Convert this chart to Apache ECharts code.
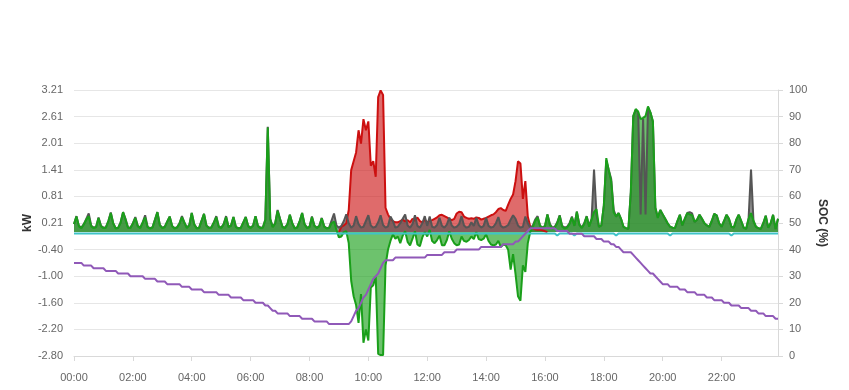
<!DOCTYPE html>
<html><head><meta charset="utf-8">
<script src="https://cdn.jsdelivr.net/npm/echarts@6/dist/echarts.min.js"></script>
<style>html,body{margin:0;padding:0;background:#fff}#c{width:849px;height:390px}</style>
</head><body><div id="c"></div>
<script>
// Categories: 5-minute slots 00:00 .. 23:55
const times = [];
for (let h = 0; h < 24; h++) for (let m = 0; m < 60; m += 5)
  times.push(String(h).padStart(2, '0') + ':' + String(m).padStart(2, '0'));

// Load (gray), kW
const load = [
0.18,0.36,0.14,0.10,0.18,0.30,0.42,0.15,0.10,0.12,0.33,0.14,
0.10,0.11,0.25,0.44,0.20,0.09,0.10,0.22,0.45,0.30,0.11,0.10,
0.20,0.34,0.14,0.10,0.22,0.38,0.12,0.09,0.11,0.28,0.45,0.16,
0.10,0.12,0.24,0.35,0.14,0.09,0.11,0.20,0.36,0.22,0.10,0.16,
0.43,0.18,0.09,0.10,0.26,0.41,0.15,0.10,0.11,0.22,0.36,0.13,
0.10,0.18,0.36,0.12,0.15,0.34,0.12,0.09,0.10,0.22,0.34,0.14,
0.10,0.15,0.36,0.14,0.10,0.11,0.28,2.38,0.30,0.12,0.20,0.50,
0.30,0.12,0.10,0.18,0.39,0.20,0.09,0.11,0.25,0.43,0.18,0.10,
0.12,0.35,0.15,0.10,0.14,0.32,0.13,0.09,0.10,0.26,0.42,0.15,
0.10,0.14,0.25,0.40,0.20,0.10,0.15,0.36,0.18,0.10,0.12,0.25,
0.38,0.15,0.10,0.12,0.22,0.38,0.16,0.10,0.13,0.35,0.25,0.10,
0.12,0.20,0.30,0.40,0.15,0.10,0.18,0.38,0.14,0.10,0.20,0.36,
0.14,0.35,0.12,0.10,0.16,0.32,0.14,0.10,0.17,0.33,0.15,0.10,
0.12,0.18,0.36,0.15,0.10,0.12,0.22,0.14,0.32,0.16,0.10,0.14,
0.32,0.14,0.10,0.12,0.20,0.34,0.14,0.10,0.12,0.16,0.28,0.38,
0.30,0.15,0.10,0.12,0.35,0.20,0.10,0.14,0.28,0.36,0.14,0.10,
0.14,0.40,0.18,0.10,0.12,0.22,0.38,0.14,0.10,0.12,0.20,0.35,
0.15,0.46,0.18,0.10,0.20,0.36,0.14,0.30,1.41,0.40,0.12,0.15,
0.60,1.62,1.40,1.20,0.50,0.35,0.43,0.30,0.12,0.09,0.07,0.90,
2.62,2.76,2.72,0.40,2.56,0.40,2.82,2.70,2.50,0.55,0.33,0.50,
0.40,0.30,0.20,0.12,0.10,0.09,0.25,0.39,0.15,0.30,0.43,0.45,
0.42,0.23,0.28,0.39,0.30,0.20,0.15,0.12,0.25,0.41,0.38,0.20,
0.12,0.25,0.39,0.30,0.12,0.10,0.28,0.39,0.25,0.10,0.07,0.30,
1.41,0.25,0.12,0.09,0.07,0.20,0.37,0.10,0.20,0.39,0.07,0.30
];

// Battery (green), kW
const battery = [
0.18,0.35,0.13,0.09,0.17,0.28,0.36,0.13,0.09,0.11,0.32,0.13,
0.09,0.10,0.24,0.43,0.19,0.08,0.09,0.21,0.45,0.28,0.10,0.09,
0.19,0.32,0.13,0.09,0.21,0.33,0.11,0.08,0.10,0.27,0.45,0.15,
0.09,0.11,0.23,0.35,0.13,0.08,0.10,0.19,0.34,0.21,0.09,0.15,
0.43,0.17,0.08,0.09,0.25,0.41,0.14,0.09,0.10,0.21,0.34,0.12,
0.09,0.17,0.34,0.11,0.14,0.34,0.11,0.08,0.09,0.21,0.34,0.13,
0.09,0.14,0.36,0.13,0.09,0.10,0.27,2.36,0.29,0.11,0.19,0.48,
0.29,0.11,0.09,0.17,0.39,0.19,0.08,0.10,0.24,0.43,0.17,0.09,
0.11,0.34,0.14,0.09,0.13,0.31,0.12,0.08,0.09,0.20,0.24,0.05,
-0.12,-0.10,0.00,0.02,-0.25,-1.10,-1.45,-1.65,-2.05,-1.40,-2.50,-2.20,
-2.45,-1.25,-1.20,-1.00,-2.75,-2.78,-2.78,-0.75,-0.40,-0.20,-0.05,-0.15,
-0.10,-0.25,-0.08,0.02,-0.22,-0.30,-0.15,0.02,-0.28,-0.32,-0.12,0.00,
-0.10,0.05,-0.20,-0.25,-0.18,-0.08,-0.30,-0.30,-0.18,0.02,-0.15,-0.25,
-0.30,-0.28,-0.10,-0.20,-0.22,-0.18,-0.10,-0.16,0.00,-0.16,-0.18,-0.15,
-0.05,-0.20,-0.28,-0.30,-0.28,-0.20,-0.34,-0.28,-0.30,-0.40,-0.85,-0.50,
-0.95,-1.45,-1.55,-0.75,-0.90,-0.25,0.00,0.10,0.25,0.33,0.14,0.09,
0.13,0.40,0.16,0.08,0.10,0.20,0.37,0.12,0.08,0.10,0.18,0.33,
0.14,0.46,0.16,0.09,0.18,0.35,0.12,0.28,0.45,0.52,0.12,0.15,
0.60,1.67,1.40,1.15,0.45,0.35,0.43,0.30,0.12,0.09,0.07,0.90,
2.62,2.78,2.72,2.55,2.58,2.62,2.84,2.70,2.50,0.55,0.32,0.50,
0.40,0.30,0.20,0.12,0.10,0.09,0.25,0.39,0.15,0.30,0.43,0.40,
0.38,0.23,0.28,0.39,0.30,0.20,0.15,0.12,0.25,0.41,0.38,0.20,
0.12,0.25,0.39,0.30,0.12,0.10,0.28,0.39,0.25,0.10,0.07,0.30,
0.43,0.25,0.12,0.09,0.07,0.20,0.37,0.10,0.20,0.39,0.07,0.30
];

// Solar (red), kW — null when not producing
const solar = [
null,null,null,null,null,null,null,null,null,null,null,null,
null,null,null,null,null,null,null,null,null,null,null,null,
null,null,null,null,null,null,null,null,null,null,null,null,
null,null,null,null,null,null,null,null,null,null,null,null,
null,null,null,null,null,null,null,null,null,null,null,null,
null,null,null,null,null,null,null,null,null,null,null,null,
null,null,null,null,null,null,null,null,null,null,null,null,
null,null,null,null,null,null,null,null,null,null,null,null,
null,null,null,null,null,null,null,null,null,null,null,null,
0.00,0.12,0.15,0.20,0.50,1.40,1.60,1.80,2.30,2.00,2.55,2.30,
2.50,1.50,1.60,1.25,3.05,3.20,3.10,0.55,0.40,0.30,0.25,0.22,
0.22,0.25,0.28,0.24,0.27,0.22,0.30,0.26,0.33,0.25,0.22,0.28,
0.22,0.26,0.27,0.30,0.33,0.38,0.39,0.36,0.33,0.30,0.27,0.30,
0.42,0.46,0.45,0.35,0.32,0.30,0.31,0.30,0.33,0.32,0.28,0.30,
0.32,0.35,0.38,0.40,0.45,0.52,0.54,0.50,0.48,0.62,0.75,0.85,
1.15,1.60,1.55,0.75,1.15,0.35,0.12,0.08,0.06,0.05,0.05,0.04,
0.02,0.00,null,null,null,null,null,null,null,null,null,null,
null,null,null,null,null,null,null,null,null,null,null,null,
null,null,null,null,null,null,null,null,null,null,null,null,
null,null,null,null,null,null,null,null,null,null,null,null,
null,null,null,null,null,null,null,null,null,null,null,null,
null,null,null,null,null,null,null,null,null,null,null,null,
null,null,null,null,null,null,null,null,null,null,null,null,
null,null,null,null,null,null,null,null,null,null,null,null
];

// Grid (cyan), kW
const grid = [
-0.03,-0.03,-0.03,-0.03,-0.03,-0.03,-0.03,-0.03,-0.03,-0.03,-0.03,-0.03,
-0.03,-0.03,-0.03,-0.03,-0.03,-0.03,-0.03,-0.03,-0.03,-0.03,-0.03,-0.03,
-0.03,-0.03,-0.03,-0.03,-0.03,-0.03,-0.03,-0.03,-0.03,-0.03,-0.03,-0.03,
-0.03,-0.03,-0.03,-0.03,-0.03,-0.03,-0.03,-0.03,-0.03,-0.03,-0.03,-0.03,
-0.03,-0.03,-0.03,-0.03,-0.03,-0.03,-0.03,-0.03,-0.03,-0.03,-0.03,-0.03,
-0.03,-0.03,-0.03,-0.03,-0.03,-0.03,-0.03,-0.03,-0.03,-0.03,-0.03,-0.03,
-0.03,-0.03,-0.03,-0.03,-0.03,-0.03,-0.03,-0.03,-0.03,-0.03,-0.03,-0.03,
-0.03,-0.03,-0.03,-0.03,-0.03,-0.03,-0.03,-0.03,-0.03,-0.03,-0.03,-0.03,
-0.03,-0.03,-0.03,-0.03,-0.03,-0.03,-0.03,-0.03,-0.03,-0.03,-0.03,-0.03,
-0.03,-0.03,-0.03,-0.03,-0.03,-0.03,-0.03,-0.03,-0.03,-0.03,-0.03,-0.03,
-0.03,-0.03,-0.03,-0.03,-0.03,-0.03,-0.03,-0.03,-0.03,-0.03,-0.03,-0.03,
-0.03,-0.03,-0.03,-0.03,-0.03,-0.03,-0.03,-0.03,-0.03,-0.03,-0.03,-0.03,
-0.03,-0.03,-0.03,-0.03,-0.03,-0.03,-0.03,-0.03,-0.03,-0.03,-0.03,-0.03,
-0.03,-0.03,-0.03,-0.03,-0.03,-0.03,-0.03,-0.03,-0.03,-0.03,-0.03,-0.03,
-0.03,-0.03,-0.03,-0.03,-0.03,-0.03,-0.03,-0.03,-0.03,-0.03,-0.03,-0.03,
-0.03,-0.03,-0.03,-0.03,-0.03,-0.03,-0.03,-0.03,-0.03,-0.03,-0.03,-0.03,
-0.03,-0.03,-0.03,-0.03,-0.03,-0.08,-0.03,-0.03,-0.03,-0.03,-0.03,-0.03,
-0.08,-0.03,-0.03,-0.03,-0.03,-0.03,-0.03,-0.03,-0.03,-0.03,-0.03,-0.03,
-0.03,-0.03,-0.03,-0.03,-0.03,-0.08,-0.03,-0.03,-0.03,-0.03,-0.03,-0.03,
-0.03,-0.03,-0.03,-0.03,-0.03,-0.03,-0.03,-0.03,-0.03,-0.03,-0.03,-0.03,
-0.03,-0.03,-0.03,-0.08,-0.03,-0.03,-0.03,-0.03,-0.03,-0.03,-0.03,-0.03,
-0.03,-0.03,-0.03,-0.03,-0.03,-0.03,-0.03,-0.03,-0.03,-0.03,-0.03,-0.03,
-0.03,-0.03,-0.03,-0.03,-0.08,-0.03,-0.03,-0.03,-0.03,-0.03,-0.03,-0.03,
-0.03,-0.03,-0.03,-0.03,-0.03,-0.03,-0.03,-0.03,-0.03,-0.03,-0.03,-0.03
];

// State of charge (purple), %
const soc = [
35,35,35,35,34,34,34,34,33,33,33,33,
33,32,32,32,32,32,31,31,31,31,31,30,
30,30,30,30,30,29,29,29,29,29,28,28,
28,28,27,27,27,27,27,27,26,26,26,26,
25,25,25,25,25,24,24,24,24,24,24,23,
23,23,23,23,22,22,22,22,22,21,21,21,
21,21,20,20,20,20,19,19,18,17,17,16,
16,16,16,16,15,15,15,15,15,14,14,14,
14,14,13,13,13,13,13,13,12,12,12,12,
12,12,12,12,12,13,15,17,18,20,22,23,
25,27,29,30,31,33,35,36,36,36,36,37,
37,37,37,37,37,37,37,37,37,37,37,37,
38,38,38,38,38,38,38,39,39,39,39,39,
40,40,40,40,40,40,40,40,40,40,41,41,
41,41,41,41,41,41,41,42,42,42,42,42,
43,43,44,45,46,47,48,48,48,48,48,48,
48,48,48,48,48,47,47,47,47,47,46,46,
46,46,46,46,45,45,45,45,45,44,44,44,
43,43,43,42,42,41,41,40,39,39,39,39,
38,37,36,35,34,33,32,31,31,30,29,28,
27,27,27,26,26,26,26,25,25,25,24,24,
24,24,23,23,23,23,22,22,22,21,21,21,
21,20,20,20,19,19,19,19,18,18,18,18,
17,17,17,16,16,16,15,15,15,15,14,14
];

const FONT = 'Liberation Sans, Arial, sans-serif';
const chart = echarts.init(document.getElementById('c'), null, {renderer: 'canvas'});
chart.setOption({
  animation: false,
  backgroundColor: '#fff',
  grid: {left: 74, right: 71, top: 90, bottom: 34, containLabel: false},
  xAxis: {
    type: 'category', data: times, boundaryGap: false,
    axisLine: {onZero: false, lineStyle: {color: '#d9d9d9'}},
    axisTick: {interval: 23, length: 5, lineStyle: {color: '#d9d9d9'}},
    axisLabel: {interval: 23, color: '#666', fontSize: 11, fontFamily: FONT, margin: 16},
    splitLine: {show: false}
  },
  yAxis: [
    {
      type: 'value', position: 'left', min: -2.8, max: 3.21, interval: 0.601,
      name: 'kW', nameLocation: 'middle', nameRotate: 90, nameGap: 40, nameMoveOverlap: false,
      nameTextStyle: {fontWeight: 'bold', fontSize: 12, color: '#333', fontFamily: FONT},
      axisLine: {show: false}, axisTick: {show: false},
      axisLabel: {color: '#666', fontSize: 11, fontFamily: FONT, margin: 11,
        formatter: v => (v + 1e-9).toFixed(2)},
      splitLine: {show: true, lineStyle: {color: '#e6e6e6', width: 1}}
    },
    {
      type: 'value', position: 'right', min: 0, max: 100, interval: 10,
      name: 'SOC (%)', nameLocation: 'middle', nameRotate: -90, nameGap: 38, nameMoveOverlap: false,
      nameTextStyle: {fontWeight: 'bold', fontSize: 12, color: '#333', fontFamily: FONT},
      axisLine: {show: true, lineStyle: {color: '#d9d9d9'}},
      axisTick: {show: true, length: 5, lineStyle: {color: '#d9d9d9'}},
      axisLabel: {color: '#666', fontSize: 11, fontFamily: FONT, margin: 11},
      splitLine: {show: false}
    }
  ],
  series: [
    {name: 'Solar', type: 'line', data: solar, yAxisIndex: 0, showSymbol: false, symbol: 'none',
      lineStyle: {color: '#cc1010', width: 2}, itemStyle: {color: '#cc1010'},
      areaStyle: {color: '#cc1010', opacity: 0.62}},
    {name: 'Load', type: 'line', data: load, yAxisIndex: 0, showSymbol: false, symbol: 'none',
      lineStyle: {color: '#555555', width: 2}, itemStyle: {color: '#555555'},
      areaStyle: {color: '#555555', opacity: 0.65}},
    {name: 'Battery', type: 'line', data: battery, yAxisIndex: 0, showSymbol: false, symbol: 'none',
      lineStyle: {color: '#1a9f1a', width: 2}, itemStyle: {color: '#1a9f1a'},
      areaStyle: {color: '#1a9f1a', opacity: 0.64}},
    {name: 'Grid', type: 'line', data: grid, yAxisIndex: 0, showSymbol: false, symbol: 'none',
      lineStyle: {color: '#3fc3c8', width: 2}, itemStyle: {color: '#3fc3c8'}},
    {name: 'SOC', type: 'line', data: soc, yAxisIndex: 1, showSymbol: false, symbol: 'none',
      lineStyle: {color: '#9059b8', width: 2}, itemStyle: {color: '#9059b8'}}
  ]
});
</script>
</body></html>
